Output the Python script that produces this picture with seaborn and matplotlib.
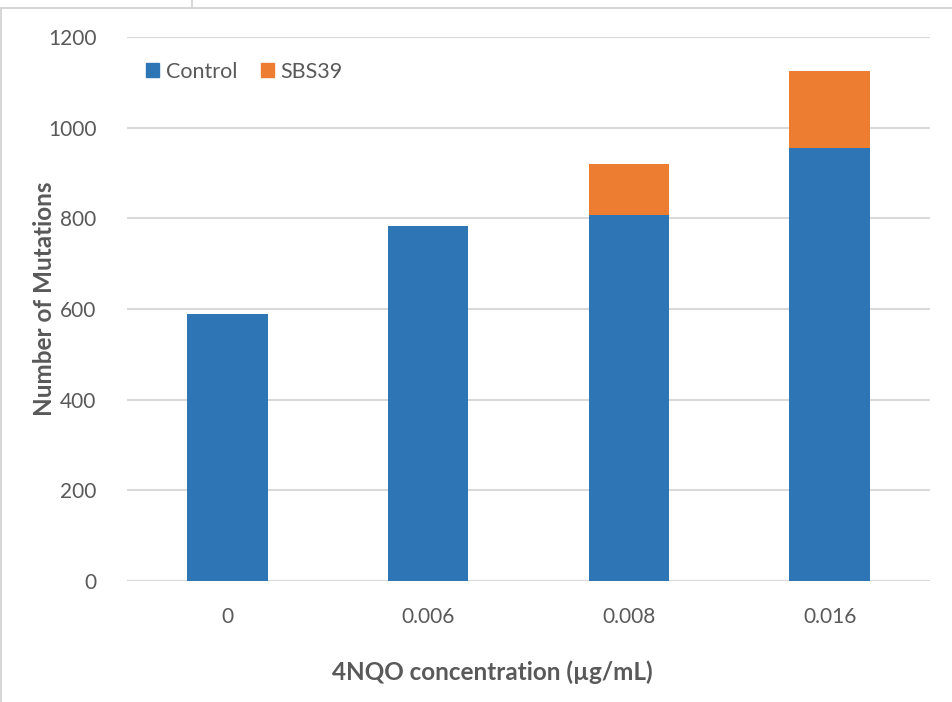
import matplotlib
matplotlib.use("Agg")
import matplotlib.pyplot as plt
import seaborn as sns
import pandas as pd
from matplotlib.lines import Line2D
from matplotlib.patches import Patch

categories = ["0", "0.006", "0.008", "0.016"]
control = [589, 783, 807, 955]
sbs39 = [0, 0, 113, 170]

sns.set_theme(style="white")
plt.rcParams['font.family'] = ['Lato', 'DejaVu Sans']

gray = "#595959"
blue = "#2E75B6"
orange = "#ED7D31"

total = [c + s for c, s in zip(control, sbs39)]
df = pd.DataFrame({"cat": categories, "control": control, "total": total})

fig = plt.figure(figsize=(9.53, 7.02), dpi=100)
ax = fig.add_axes([127/953, 1-581/702, (930-127)/953, (581-37)/702])

sns.barplot(data=df, x="cat", y="total", color=orange, saturation=1, width=0.4,
            ax=ax, edgecolor="none")
sns.barplot(data=df, x="cat", y="control", color=blue, saturation=1, width=0.4,
            ax=ax, edgecolor="none")

ax.set_xlim(-0.5, 3.5)
ax.set_ylim(0, 1200)
ax.set_yticks(range(0, 1201, 200))
ax.yaxis.grid(True, color="#d9d9d9", linewidth=1.5)
ax.set_axisbelow(True)
for s in ax.spines.values():
    s.set_visible(False)
ax.axhline(0, color="#d9d9d9", linewidth=1.5, zorder=0.5)

ax.tick_params(axis="y", length=0, pad=22, labelsize=15, labelcolor=gray)
ax.tick_params(axis="x", length=0, pad=19, labelsize=15, labelcolor=gray)

ax.set_xlabel("4NQO concentration (µg/mL)", fontsize=17.5, fontweight="bold",
              color=gray, va="center")
ax.xaxis.set_label_coords((492-127)/803, (581-672)/544)
ax.set_ylabel("Number of Mutations", fontsize=17.5, fontweight="bold",
              color=gray, va="center")
ax.yaxis.set_label_coords((45-127)/803, (581-299)/544)

handles = [Patch(color=blue, label="Control"), Patch(color=orange, label="SBS39")]
leg = ax.legend(handles=handles, loc="upper left", bbox_to_anchor=(0.0, 0.99),
                ncol=2, frameon=False, fontsize=15.5, handlelength=0.6,
                handleheight=0.6, handletextpad=0.3, columnspacing=1.1)
for t in leg.get_texts():
    t.set_color(gray)

# screenshot frame lines
fig.add_artist(Line2D([0, 1], [1-8/702, 1-8/702], transform=fig.transFigure,
                      color="#d0d0d0", linewidth=1.2))
fig.add_artist(Line2D([1/953, 1/953], [0, 1-8/702], transform=fig.transFigure,
                      color="#d0d0d0", linewidth=1.2))
fig.add_artist(Line2D([192/953, 192/953], [1-8/702, 1], transform=fig.transFigure,
                      color="#d0d0d0", linewidth=1.2))

fig.savefig("out.png", dpi=100, facecolor="white")
